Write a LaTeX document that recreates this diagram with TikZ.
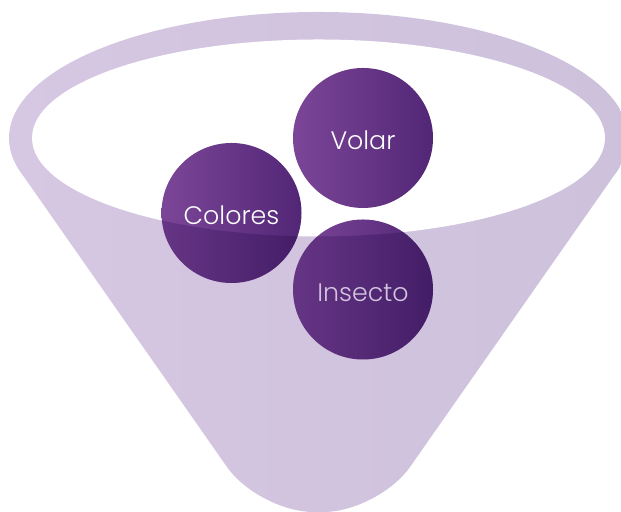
\documentclass[tikz,border=0pt]{standalone}
\usepackage{fontspec}
\IfFontExistsTF{Poppins Light}{\setmainfont{Poppins Light}}{\setmainfont{Poppins}}
\usepackage{tikz}
\usetikzlibrary{calc}
\definecolor{lilacleft}{RGB}{214,199,226}
\definecolor{lilacright}{RGB}{205,193,220}
\definecolor{lilac}{RGB}{210,196,223}
\definecolor{plumlight}{RGB}{124,70,152}
\definecolor{plumdark}{RGB}{82,38,118}

\tikzset{
  ball/.style={circle, minimum size=1.4cm, inner sep=0pt, text=white,
    left color=plumlight, right color=plumdark,
    text height=6.7pt, text depth=0pt,
    font=\fontsize{7.2}{8}\selectfont},
}

\begin{document}
\begin{tikzpicture}
    \useasboundingbox (0,0) rectangle (6.21,5.12);

    % =====================
    % Funnel
    % =====================
    \coordinate (lt) at (0.209,3.395);
    \coordinate (lb) at (2.585,0);
    \coordinate (rb) at (3.785,0);
    \coordinate (rt) at (6.161,3.395);

    \shade[left color=lilacleft, right color=lilacright]
      (3.185,3.74) ellipse [x radius=3.095, y radius=1.26]
      (lt) [rounded corners=5.5mm] -- (lb) -- (rb) [sharp corners] -- (rt) -- cycle;
    \fill[white] (3.185,3.74) ellipse [x radius=2.865, y radius=0.985];

    % =====================
    % Balls
    % =====================
    \node[ball] (volar) at (3.63,3.74) {Volar};
    \node[ball] (colores) at (2.315,2.99) {Colores};
    \node[ball] (insecto) at (3.63,2.225) {Insecto};

    % =====================
    % Front of the funnel
    % =====================
    \begin{scope}[blend mode=multiply]
    \clip (volar.center) circle (0.7) (colores.center) circle (0.7)
      (insecto.center) circle (0.7);
    \fill[lilac, even odd rule] (0,0) rectangle (6.21,5.12)
      (3.185,3.74) ellipse [x radius=2.865, y radius=0.985];
    \end{scope}

\end{tikzpicture}
\end{document}
